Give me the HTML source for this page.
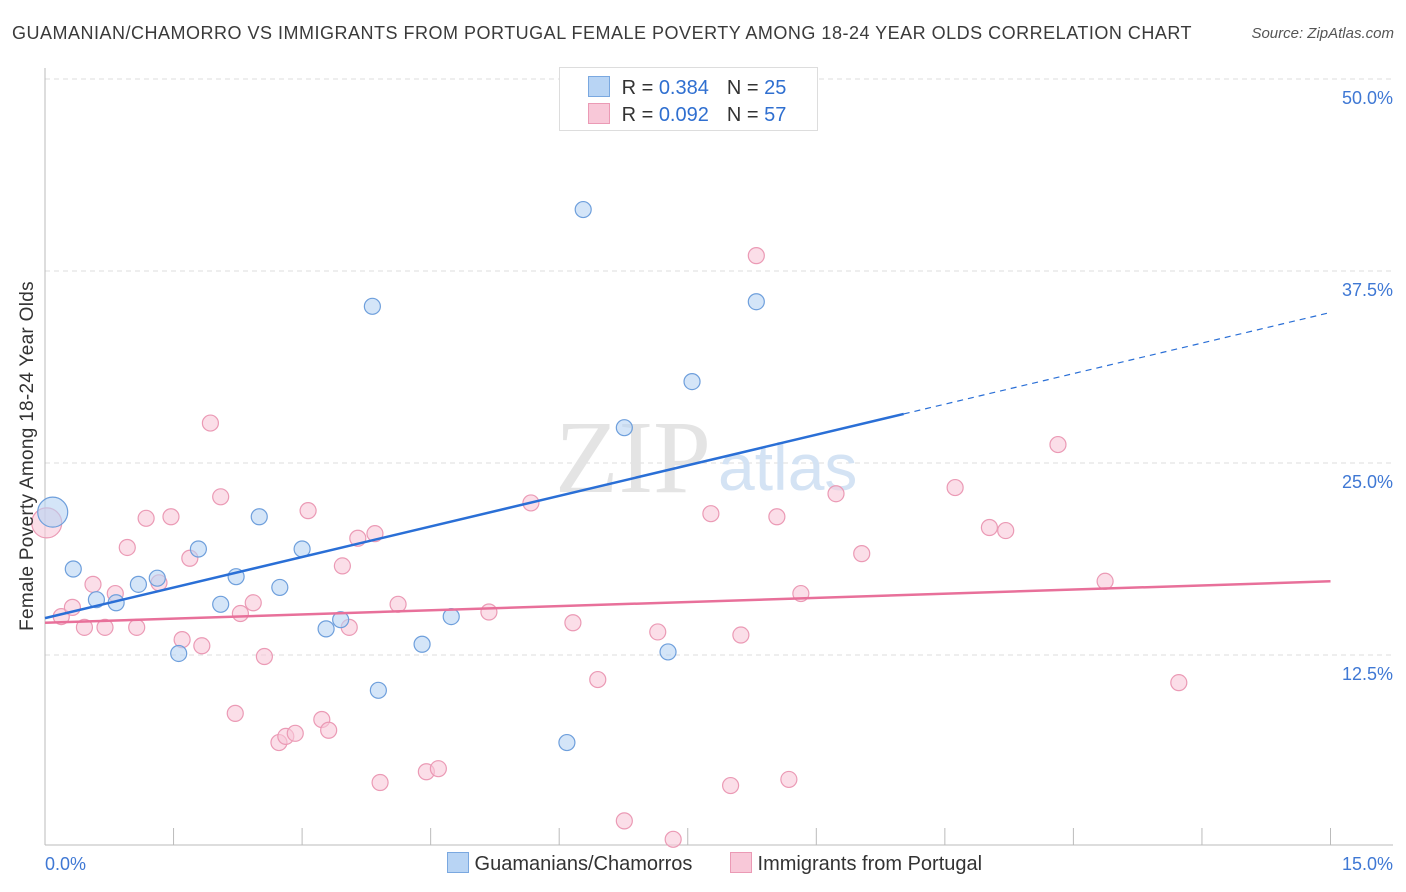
<!DOCTYPE html>
<html><head><meta charset="utf-8">
<style>
body{margin:0;background:#fff;font-family:"Liberation Sans",sans-serif;}
#wrap{position:relative;width:1406px;height:892px;overflow:hidden;}
.t{position:absolute;white-space:nowrap;}
</style></head>
<body>
<div id="wrap">
<div class="t" style="left:12px;top:23px;font-size:18px;color:#3a3a3a;letter-spacing:0.5px;">GUAMANIAN/CHAMORRO VS IMMIGRANTS FROM PORTUGAL FEMALE POVERTY AMONG 18-24 YEAR OLDS CORRELATION CHART</div>
<div class="t" style="right:12px;top:25px;font-size:15px;color:#555;font-style:italic;">Source: ZipAtlas.com</div>
<svg id="svg" width="1406" height="892" style="position:absolute;left:0;top:0;"></svg>
<div class="t" style="left:28px;top:456px;font-size:19px;letter-spacing:0.3px;color:#333;transform:translate(-50%,-50%) rotate(-90deg);">Female Poverty Among 18-24 Year Olds</div>
<div style="position:absolute;left:559px;top:67px;width:257px;height:62px;border:1px solid #ddd;background:#fff;font-size:20px;color:#333;">
<div style="position:absolute;left:28px;top:8px;"><span style="display:inline-block;width:20px;height:19px;background:#b8d4f4;border:1px solid #7aa8e0;vertical-align:-3px;"></span> <span style="margin-left:6px">R = <span style="color:#2f6fd0">0.384</span></span><span style="margin-left:18px">N = <span style="color:#2f6fd0">25</span></span></div>
<div style="position:absolute;left:28px;top:35px;"><span style="display:inline-block;width:20px;height:19px;background:#f8c8d8;border:1px solid #eb9ab5;vertical-align:-3px;"></span> <span style="margin-left:6px">R = <span style="color:#2f6fd0">0.092</span></span><span style="margin-left:18px">N = <span style="color:#2f6fd0">57</span></span></div>
</div>
<div style="position:absolute;left:447px;top:852px;font-size:20px;color:#333;">
<span><span style="display:inline-block;width:20px;height:19px;background:#b8d4f4;border:1px solid #7aa8e0;vertical-align:-3px;"></span> Guamanians/Chamorros</span>
<span style="margin-left:32px"><span style="display:inline-block;width:20px;height:19px;background:#f8c8d8;border:1px solid #eb9ab5;vertical-align:-3px;"></span> Immigrants from Portugal</span>
</div>
</div>
<script>
const blueX=[0.09,0.33,0.60,0.83,1.09,1.31,1.56,1.79,2.05,2.23,2.50,2.74,3.00,3.28,3.45,3.82,3.89,4.40,4.74,6.09,6.28,6.76,7.27,7.55,8.30];
const blueY=[21.8,18.1,16.1,15.9,17.1,17.5,12.6,19.4,15.8,17.6,21.5,16.9,19.4,14.2,14.8,35.2,10.2,13.2,15.0,6.8,41.5,27.3,12.7,30.3,35.5];
const pinkX=[0.02,0.19,0.32,0.46,0.56,0.70,0.82,0.96,1.07,1.18,1.33,1.47,1.60,1.69,1.83,1.93,2.05,2.22,2.28,2.43,2.56,2.73,2.81,2.92,3.07,3.23,3.31,3.47,3.55,3.65,3.85,3.91,4.12,4.45,4.59,5.18,5.67,6.16,6.45,6.76,7.15,7.33,7.77,8.00,8.12,8.30,8.54,8.68,8.82,9.23,9.53,10.62,11.02,11.21,11.82,12.37,13.23];
const pinkY=[21.1,15.0,15.6,14.3,17.1,14.3,16.5,19.5,14.3,21.4,17.2,21.5,13.5,18.8,13.1,27.6,22.8,8.7,15.2,15.9,12.4,6.8,7.2,7.4,21.9,8.3,7.6,18.3,14.3,20.1,20.4,4.2,15.8,4.9,5.1,15.3,22.4,14.6,10.9,1.7,14.0,0.5,21.7,4.0,13.8,38.5,21.5,4.4,16.5,23.0,19.1,23.4,20.8,20.6,26.2,17.3,10.7];
const blueTrend=[14.9,34.8];
const pinkTrend=[14.6,17.3];
const yTicks=[12.5,25.0,37.5,50.0];
const xTicks=[0,1.5,3,4.5,6,7.5,9,10.5,12,13.5,15];
const X=v=>45+v*85.7, Y=v=>847-v*15.36;
const svg=document.getElementById('svg');const NS='http://www.w3.org/2000/svg';
function mk(t,a,name){const e=document.createElementNS(NS,t);for(const k in a)e.setAttribute(k,a[k]);


svg.appendChild(e);return e;}
yTicks.forEach(v=>{mk('line',{x1:45,x2:1393,y1:Y(v),y2:Y(v),stroke:'#ddd','stroke-dasharray':'5,4'},'gridline');
const t=mk('text',{x:1393,y:Y(v)+25,'text-anchor':'end','font-size':18,fill:'#3f78d4','font-family':'Liberation Sans'},'y-tick-label');t.textContent=v.toFixed(1)+'%';});
mk('line',{x1:45,x2:45,y1:68,y2:845,stroke:'#bbb'},'y-axis');
mk('line',{x1:45,x2:1393,y1:845,y2:845,stroke:'#bbb'},'x-axis');
xTicks.forEach(v=>mk('line',{x1:X(v),x2:X(v),y1:828,y2:845,stroke:'#bbb'},'x-tick'));
let t=mk('text',{x:45,y:870,'font-size':18,fill:'#3f78d4','font-family':'Liberation Sans'},'x-tick-label');t.textContent='0.0%';
t=mk('text',{x:1393,y:870,'text-anchor':'end','font-size':18,fill:'#3f78d4','font-family':'Liberation Sans'},'x-tick-label');t.textContent='15.0%';
t=mk('text',{x:555,y:492,'font-size':104,fill:'#e4e4e4','font-family':'Liberation Serif'},'watermark');t.textContent='ZIP';
t=mk('text',{x:718,y:490,'font-size':66,fill:'#d4e3f4','font-family':'Liberation Sans'},'watermark-atlas');t.textContent='atlas';
pinkX.forEach((x,i)=>mk('circle',{cx:X(x),cy:Y(pinkY[i]),r:i==0?15:8,fill:'#f8c8d8','fill-opacity':0.6,stroke:'#eb9ab5','stroke-width':1.2},'portugal-point'));
blueX.forEach((x,i)=>mk('circle',{cx:X(x),cy:Y(blueY[i]),r:i==0?15:8,fill:'#b8d4f4','fill-opacity':0.6,stroke:'#6e9fdc','stroke-width':1.2},'guamanian-point'));
const bAt=x=>blueTrend[0]+(blueTrend[1]-blueTrend[0])*x/15;
mk('line',{x1:X(0),y1:Y(bAt(0)),x2:X(10.02),y2:Y(bAt(10.02)),stroke:'#2a6fd6','stroke-width':2.5},'guamanian-trendline');
mk('line',{x1:X(10.02),y1:Y(bAt(10.02)),x2:X(15),y2:Y(bAt(15)),stroke:'#2a6fd6','stroke-width':1.2,'stroke-dasharray':'6,5'},'guamanian-trendline-extension');
mk('line',{x1:X(0),y1:Y(pinkTrend[0]),x2:X(15),y2:Y(pinkTrend[1]),stroke:'#e8709a','stroke-width':2.5},'portugal-trendline');
</script>
</body></html>
